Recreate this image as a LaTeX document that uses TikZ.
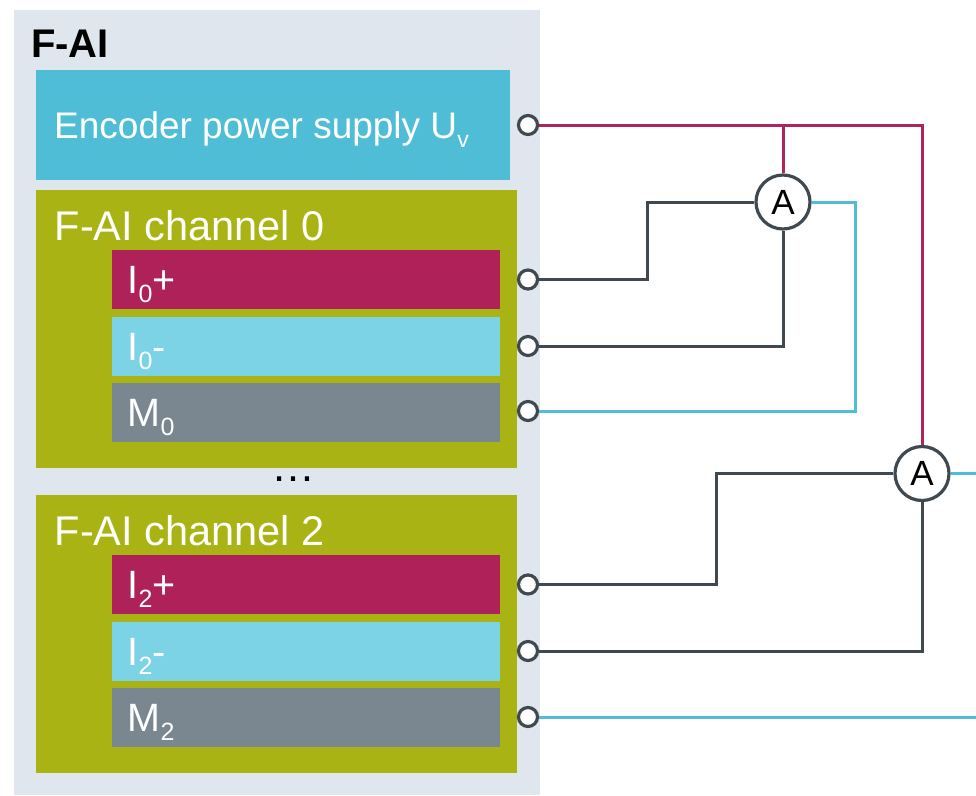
\documentclass[tikz,border=0pt]{standalone}
\usepackage{fontspec}
\setmainfont{Liberation Sans}
\usepackage{xcolor}

\definecolor{panelgray}{HTML}{DFE6EE}
\definecolor{encblue}{HTML}{50BDD7}
\definecolor{olive}{HTML}{A9B414}
\definecolor{plusred}{HTML}{AF2259}
\definecolor{minusblue}{HTML}{7CD3E6}
\definecolor{massgray}{HTML}{7A8791}
\definecolor{wiredark}{HTML}{3F494F}
\definecolor{wirered}{HTML}{B0245E}
\definecolor{wireblue}{HTML}{50BDD7}

\newcommand{\lowidx}[2][25]{\raisebox{-9pt}{\fontsize{#1}{#1}\selectfont #2}}

\begin{document}
\begin{tikzpicture}[x=1pt, y=-1pt,
	box/.style={draw=none, inner sep=0pt, anchor=north west},
	pinbox/.style={box, minimum width=388pt, minimum height=59pt, text width=357pt, inner xsep=15.5pt, align=left, text height=28pt, text depth=0pt, text=white, font=\fontsize{39.5}{40}\selectfont},
	chanlabel/.style={anchor=base west, inner sep=0pt, text=white, font=\fontsize{41.5}{42}\selectfont},
	term/.style={circle, draw=wiredark, fill=white, line width=3.2pt, minimum size=19pt, inner sep=0pt},
	meter/.style={circle, draw=wiredark, fill=white, line width=3.2pt, minimum size=54pt, inner sep=0pt, font=\fontsize{35}{35}\selectfont},
	wred/.style={draw=wirered, line width=3pt},
	wdark/.style={draw=wiredark, line width=3pt},
	wblue/.style={draw=wireblue, line width=3pt}]
	\useasboundingbox (0,0) rectangle (976,795);

	% Module
	\node[box, fill=panelgray, minimum width=526pt, minimum height=785pt] (fai) at (14,10) {};
	\node[anchor=base west, inner sep=0pt, font=\bfseries\fontsize{40}{40}\selectfont] (title) at (31,57) {F-AI};

	\node[box, fill=encblue, minimum width=474pt, minimum height=110pt] (enc) at (36,70) {};
	\node[anchor=base west, inner sep=0pt, text=white, font=\fontsize{37}{37}\selectfont] (enclabel) at (54,138) {Encoder power supply U\lowidx[23]{v}};

	% Channel 0
	\node[box, fill=olive, minimum width=481pt, minimum height=278pt] (ch0) at (36,190) {};
	\node[chanlabel] (ch0label) at (54.5,240) {F-AI channel 0};
	\node[pinbox, fill=plusred] (ip0) at (112,250) {I\lowidx{0}+};
	\node[pinbox, fill=minusblue] (im0) at (112,317) {I\lowidx{0}-};
	\node[pinbox, fill=massgray] (mm0) at (112,383) {M\lowidx{0}};

	\node[anchor=base, inner sep=0pt, font=\fontsize{44}{44}\selectfont] (dots) at (293,481) {\textellipsis};

	% Channel 2
	\node[box, fill=olive, minimum width=481pt, minimum height=278pt] (ch2) at (36,495) {};
	\node[chanlabel] (ch2label) at (54.5,545) {F-AI channel 2};
	\node[pinbox, fill=plusred] (ip2) at (112,555) {I\lowidx{2}+};
	\node[pinbox, fill=minusblue] (im2) at (112,622) {I\lowidx{2}-};
	\node[pinbox, fill=massgray] (mm2) at (112,688) {M\lowidx{2}};

	% Terminals
	\node[term] (tuv) at (528,125) {};
	\node[term] (tp0) at (528,279.5) {};
	\node[term] (tm0) at (528,346) {};
	\node[term] (tM0) at (528,411) {};
	\node[term] (tp2) at (528,584.5) {};
	\node[term] (tm2) at (528,651) {};
	\node[term] (tM2) at (528,717) {};

	% Meters
	\node[meter] (am0) at (783,202) {A};
	\node[meter] (am2) at (922,473.5) {A};

	\coordinate (jog0) at (647,0);
	\coordinate (ret0) at (855,0);
	\coordinate (jog2) at (716,0);
	\coordinate (edge) at (976,0);

	% Edges
	\draw[wred] (tuv) -| (am2);
	\draw[wred] (am0) -- (am0 |- tuv);
	\draw[wdark] (tp0) -| (jog0 |- am0) -- (am0);
	\draw[wdark] (tm0) -| (am0);
	\draw[wblue] (am0) -| (ret0 |- tM0) -- (tM0);
	\draw[wdark] (tp2) -| (jog2 |- am2) -- (am2);
	\draw[wdark] (tm2) -| (am2);
	\draw[wblue] (am2) -- (am2 -| edge);
	\draw[wblue] (tM2) -- (tM2 -| edge);

\end{tikzpicture}
\end{document}
